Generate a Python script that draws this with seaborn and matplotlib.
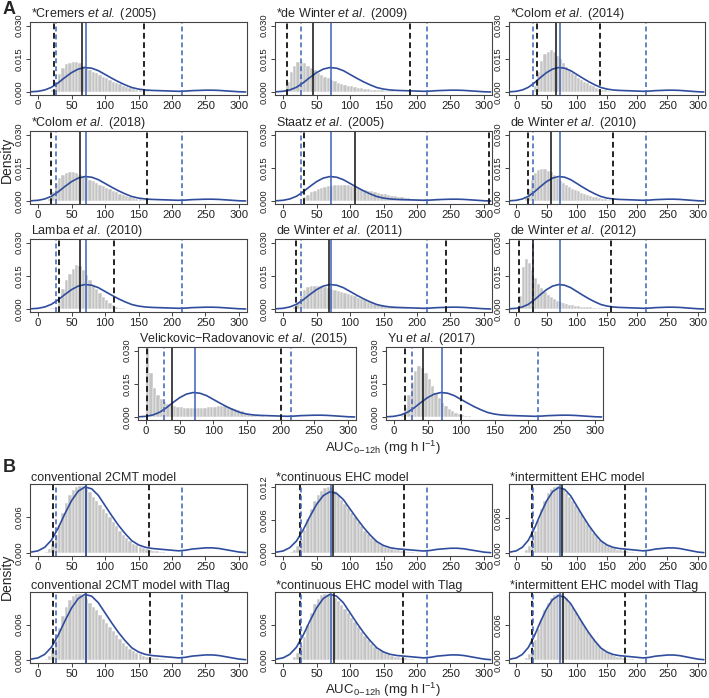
import pandas as pd
import matplotlib
matplotlib.use('Agg')
import matplotlib.pyplot as plt
import seaborn as sns

# observed AUC density (blue curve) and its percentiles
obs_x = [-10, 0, 10, 20, 30, 40, 50, 60, 70, 80, 90, 100, 110, 120, 130, 140, 150, 160,
         170, 180, 190, 200, 210, 220, 230, 240, 250, 260, 270, 280, 290, 300, 310]
obs_density = [0.0002, 0.0004, 0.0010, 0.0022, 0.0042, 0.0066, 0.0088, 0.0104, 0.0111, 0.0108,
               0.0097, 0.0080, 0.0063, 0.0047, 0.0033, 0.0021, 0.0014, 0.0010, 0.0008, 0.0007,
               0.0006, 0.0005, 0.0004, 0.0005, 0.0007, 0.0008, 0.0009, 0.0009, 0.0008, 0.0006,
               0.0004, 0.0002, 0.0001]
obs_lo, obs_med, obs_hi = 27, 72, 215

# panel A: published models
titles_a = [r'*Cremers $\mathit{et\ al.}$ (2005)', r'*de Winter $\mathit{et\ al.}$ (2009)',
            r'*Colom $\mathit{et\ al.}$ (2014)', r'*Colom $\mathit{et\ al.}$ (2018)',
            r'Staatz $\mathit{et\ al.}$ (2005)', r'de Winter $\mathit{et\ al.}$ (2010)',
            r'Lamba $\mathit{et\ al.}$ (2010)', r'de Winter $\mathit{et\ al.}$ (2011)',
            r'de Winter $\mathit{et\ al.}$ (2012)',
            r'Velickovic$-$Radovanovic $\mathit{et\ al.}$ (2015)', r'Yu $\mathit{et\ al.}$ (2017)']
sim_lo_a = [24, 6, 34, 20, 31, 19, 32, 19, 5, 1, 16]
sim_med_a = [65, 44, 66, 62, 107, 58, 63, 69, 28, 38, 43]
sim_hi_a = [158, 189, 138, 162, 307, 160, 113, 243, 157, 200, 100]
hist_start_a = [20, 0, 30, 15, 20, 15, 20, 15, 0, 0, 10]

hist_cremers = [0.001, 0.004, 0.008, 0.011, 0.0125, 0.013, 0.0135, 0.0135, 0.013, 0.012, 0.011,
                0.010, 0.0093, 0.0085, 0.0077, 0.007, 0.0062, 0.0055, 0.0048, 0.0042, 0.0036,
                0.003, 0.0025, 0.002, 0.0016, 0.0012, 0.0009, 0.0006, 0.0004, 0.0003, 0.0002]
hist_dewinter09 = [0.0008, 0.0045, 0.009, 0.012, 0.0135, 0.0135, 0.013, 0.012, 0.011, 0.0098,
                   0.0088, 0.0078, 0.007, 0.0062, 0.0055, 0.0049, 0.0043, 0.0038, 0.0034, 0.003,
                   0.0027, 0.0024, 0.0021, 0.0018, 0.0016, 0.0014, 0.0012, 0.001, 0.0009, 0.0008,
                   0.0006, 0.0005, 0.0004, 0.0003, 0.0003, 0.0002, 0.0002, 0.0001]
hist_colom14 = [0.003, 0.009, 0.014, 0.017, 0.0183, 0.0188, 0.018, 0.0165, 0.015, 0.0132, 0.0115,
                0.010, 0.0088, 0.0077, 0.0066, 0.0057, 0.0048, 0.004, 0.0033, 0.0027, 0.0021,
                0.0016, 0.0012, 0.0008, 0.0005, 0.0003]
hist_colom18 = [0.001, 0.004, 0.008, 0.0105, 0.012, 0.0128, 0.013, 0.013, 0.0125, 0.012, 0.0113,
                0.0105, 0.0097, 0.009, 0.0082, 0.0075, 0.0068, 0.006, 0.0053, 0.0046, 0.004,
                0.0034, 0.0028, 0.0023, 0.0018, 0.0014, 0.0011, 0.0008, 0.0006, 0.0004, 0.0003]
hist_staatz = [0.0003, 0.001, 0.002, 0.003, 0.004, 0.0048, 0.0055, 0.006, 0.0064, 0.0068, 0.007,
               0.0072, 0.0073, 0.0073, 0.0073, 0.0071, 0.0068, 0.0064, 0.006, 0.0056, 0.0052,
               0.0048, 0.0044, 0.004, 0.0037, 0.0034, 0.0031, 0.0028, 0.0025, 0.0022, 0.002,
               0.0018, 0.0016, 0.0014, 0.0012, 0.0011, 0.001, 0.0009, 0.0008, 0.0007, 0.0006,
               0.0005, 0.0004, 0.0003]
hist_dewinter10 = [0.002, 0.0055, 0.0095, 0.0125, 0.014, 0.0145, 0.0143, 0.0138, 0.013, 0.0118,
                   0.0105, 0.0093, 0.0082, 0.0072, 0.0064, 0.0057, 0.005, 0.0044, 0.0039, 0.0034,
                   0.0029, 0.0025, 0.0021, 0.0017, 0.0014, 0.0011, 0.0008, 0.0006, 0.0004, 0.0003]
hist_lamba = [0.0005, 0.0005, 0.004, 0.009, 0.013, 0.016, 0.018, 0.0198, 0.0195, 0.0175, 0.0155,
              0.013, 0.011, 0.009, 0.0072, 0.0056, 0.0042, 0.003, 0.002, 0.0012, 0.0007, 0.0004]
hist_dewinter11 = [0.001, 0.003, 0.006, 0.0085, 0.0098, 0.0103, 0.0105, 0.0105, 0.0103, 0.010,
                   0.0097, 0.0093, 0.0088, 0.0083, 0.0078, 0.0073, 0.0068, 0.0063, 0.0058, 0.0052,
                   0.0046, 0.004, 0.0034, 0.0029, 0.0025, 0.0021, 0.0018, 0.0015, 0.0012, 0.001,
                   0.0008, 0.0006, 0.0005, 0.0004, 0.0003, 0.0003, 0.0002, 0.0002]
hist_dewinter12 = [0.0005, 0.006, 0.019, 0.0225, 0.021, 0.0175, 0.014, 0.0115, 0.0095, 0.0078,
                   0.0065, 0.0055, 0.0046, 0.0039, 0.0033, 0.0028, 0.0024, 0.002, 0.0017, 0.0015,
                   0.0013, 0.0011, 0.001, 0.0009, 0.0008, 0.0007, 0.0006, 0.0005, 0.0004, 0.0004,
                   0.0003, 0.0003, 0.0002]
hist_velickovic = [0.032, 0.020, 0.013, 0.010, 0.008, 0.0068, 0.006, 0.0055, 0.005, 0.0046, 0.0044,
                   0.0042, 0.0041, 0.004, 0.004, 0.004, 0.0041, 0.0042, 0.0044, 0.0046, 0.0048,
                   0.005, 0.0051, 0.005, 0.0047, 0.0043, 0.0038, 0.0032, 0.0026, 0.002, 0.0015,
                   0.0011, 0.0008, 0.0006, 0.0004, 0.0003, 0.0002, 0.0002, 0.0001]
hist_yu = [0.001, 0.004, 0.010, 0.016, 0.021, 0.023, 0.022, 0.020, 0.017, 0.014, 0.011, 0.0085,
           0.0065, 0.005, 0.0037, 0.0027, 0.002, 0.0014, 0.001, 0.0007, 0.0004, 0.0002]
hists_a = [hist_cremers, hist_dewinter09, hist_colom14, hist_colom18, hist_staatz, hist_dewinter10,
           hist_lamba, hist_dewinter11, hist_dewinter12, hist_velickovic, hist_yu]

# panel B: new model structures
titles_b = ['conventional 2CMT model', '*continuous EHC model', '*intermittent EHC model',
            'conventional 2CMT model with Tlag', '*continuous EHC model with Tlag',
            '*intermittent EHC model with Tlag']
sim_lo_b = [22, 25, 26, 22, 25, 26]
sim_med_b = [71, 74, 76, 71, 76, 77]
sim_hi_b = [166, 180, 180, 167, 179, 180]
hist_start_b = [10, 10, 10, 10, 10, 10]
ylim_top_b = [0.0116, 0.0125, 0.0117, 0.0115, 0.0115, 0.0117]

hist_conv = [0.0002, 0.0007, 0.0016, 0.003, 0.0048, 0.0068, 0.0085, 0.0098, 0.0106, 0.0111, 0.0113,
             0.0112, 0.0108, 0.0102, 0.0095, 0.0088, 0.0081, 0.0074, 0.0067, 0.006, 0.0053,
             0.0046, 0.0038, 0.0031, 0.0025, 0.002, 0.0016, 0.0013, 0.001, 0.0008, 0.0007,
             0.0005, 0.0004, 0.0003, 0.0002, 0.0002, 0.0001]
hist_cont = [0.0002, 0.0006, 0.0013, 0.0025, 0.0042, 0.0062, 0.008, 0.0095, 0.0106, 0.0113, 0.0117,
             0.0119, 0.0117, 0.0112, 0.0105, 0.0097, 0.0089, 0.0081, 0.0073, 0.0065, 0.0057,
             0.0049, 0.0041, 0.0034, 0.0028, 0.0023, 0.0018, 0.0015, 0.0012, 0.001, 0.0008,
             0.0006, 0.0005, 0.0004, 0.0003, 0.0002, 0.0002, 0.0001]
hist_int = [0.0001, 0.0005, 0.0012, 0.0023, 0.0038, 0.0056, 0.0074, 0.0089, 0.0101, 0.0108, 0.0112,
            0.0113, 0.0112, 0.0108, 0.0102, 0.0095, 0.0088, 0.0081, 0.0074, 0.0066, 0.0058,
            0.005, 0.0042, 0.0035, 0.0029, 0.0023, 0.0019, 0.0015, 0.0012, 0.001, 0.0008,
            0.0006, 0.0005, 0.0004, 0.0003, 0.0002, 0.0002, 0.0001]
hist_conv_tlag = [0.0002, 0.0008, 0.0018, 0.0034, 0.0054, 0.0074, 0.009, 0.0102, 0.0109, 0.0112,
                  0.0111, 0.0108, 0.0103, 0.0097, 0.009, 0.0084, 0.0077, 0.007, 0.0063, 0.0056,
                  0.0049, 0.0042, 0.0035, 0.0029, 0.0024, 0.0019, 0.0015, 0.0012, 0.001, 0.0008,
                  0.0006, 0.0005, 0.0004, 0.0003, 0.0002, 0.0002, 0.0001]
hist_cont_tlag = [0.0001, 0.0005, 0.0012, 0.0024, 0.004, 0.006, 0.0079, 0.0094, 0.0104, 0.011,
                  0.0112, 0.0112, 0.0109, 0.0105, 0.0099, 0.0093, 0.0086, 0.0079, 0.0072, 0.0064,
                  0.0056, 0.0048, 0.0041, 0.0034, 0.0028, 0.0023, 0.0018, 0.0015, 0.0012, 0.001,
                  0.0008, 0.0006, 0.0005, 0.0004, 0.0003, 0.0002, 0.0002, 0.0001]
hist_int_tlag = [0.0001, 0.0004, 0.001, 0.002, 0.0035, 0.0053, 0.0071, 0.0087, 0.0099, 0.0107,
                 0.0112, 0.0114, 0.0114, 0.0111, 0.0106, 0.0099, 0.0091, 0.0083, 0.0075, 0.0067,
                 0.0059, 0.0051, 0.0043, 0.0036, 0.003, 0.0024, 0.0019, 0.0015, 0.0012, 0.001,
                 0.0008, 0.0006, 0.0005, 0.0004, 0.0003, 0.0002, 0.0002, 0.0001]
hists_b = [hist_conv, hist_cont, hist_int, hist_conv_tlag, hist_cont_tlag, hist_int_tlag]

BIN = 5
BLUE = '#2f4d9c'
BLUE_LIGHT = '#3f62b8'

sns.set_style('ticks')
plt.rcParams['font.family'] = ['Liberation Sans', 'DejaVu Sans']
plt.rcParams['mathtext.fontset'] = 'custom'
plt.rcParams['mathtext.rm'] = 'Liberation Sans'
plt.rcParams['mathtext.it'] = 'Liberation Sans:italic'
plt.rcParams['axes.edgecolor'] = '#444444'

W, H = 709, 698
fig = plt.figure(figsize=(W / 100, H / 100), dpi=100)


def add_box(x0, x1, top, bottom):
    return fig.add_axes([x0 / W, 1 - bottom / H, (x1 - x0) / W, (bottom - top) / H])


def draw_panel(ax, title, start, heights, lo, med, hi, ytop, yticks):
    edges = [start + BIN * k for k in range(len(heights) + 1)]
    df = pd.DataFrame({'auc': [e + BIN / 2 for e in edges[:-1]], 'dens': heights})
    sns.histplot(data=df, x='auc', weights='dens', bins=edges, ax=ax, color='#c4c4c4',
                 edgecolor='white', linewidth=0.35, alpha=1)
    sns.lineplot(x=obs_x, y=obs_density, ax=ax, color=BLUE, linewidth=1.2)
    dash = (0, (3.2, 2.0))
    for v in (lo, hi):
        ax.axvline(v, color='#111111', linestyle=dash, linewidth=1.3)
    for v in (obs_lo, obs_hi):
        ax.axvline(v, color=BLUE_LIGHT, linestyle=dash, linewidth=1.1)
    ax.axvline(med, color='#111111', linewidth=1.1)
    ax.axvline(obs_med, color=BLUE_LIGHT, linewidth=1.1)
    ax.set_xticks(range(0, 301, 50))
    ax.set_yticks(yticks)
    ax.set_yticklabels([f'{t:.3f}' for t in yticks], rotation=90, va='center')
    ax.set_xlim(-12, 312)
    ax.set_ylim(-0.04 * ytop, ytop)
    ax.tick_params(axis='x', labelsize=8.2, length=3, width=0.6, pad=1.2, colors='#222222')
    ax.tick_params(axis='y', labelsize=6.8, length=3, width=0.6, pad=1.5, colors='#222222')
    for s in ax.spines.values():
        s.set_visible(True)
        s.set_linewidth(0.8)
    ax.set_xlabel('')
    ax.set_ylabel('')
    ax.set_title(title, loc='left', fontsize=9.0, pad=1.5, x=0.005)


# panel A layout (pixel boxes)
cols = [(30, 247), (275, 492), (509, 705)]
rows_a = [(22, 95), (131, 204), (239, 312), (347, 420)]
boxes_a = [(c, r) for r in rows_a[:3] for c in cols] + [((138, 356), rows_a[3]), ((386, 603), rows_a[3])]
for i, ((x0, x1), (t, b)) in enumerate(boxes_a):
    ax = add_box(x0, x1, t, b)
    draw_panel(ax, titles_a[i], hist_start_a[i], hists_a[i], sim_lo_a[i], sim_med_a[i],
               sim_hi_a[i], 0.0316, [0, 0.015, 0.030])

# panel B layout
rows_b = [(484, 556), (592, 663)]
boxes_b = [(c, r) for r in rows_b for c in cols]
for i, ((x0, x1), (t, b)) in enumerate(boxes_b):
    ax = add_box(x0, x1, t, b)
    draw_panel(ax, titles_b[i], hist_start_b[i], hists_b[i], sim_lo_b[i], sim_med_b[i],
               sim_hi_b[i], ylim_top_b[i], [0, 0.006, 0.012])

xlab = r'AUC$_{\mathrm{0\!-\!12h}}$ (mg h l$^{-1}$)'
fig.text(3 / W, 1 - 9 / H, 'A', fontsize=13, fontweight='bold', va='center')
fig.text(3 / W, 1 - 467 / H, 'B', fontsize=13, fontweight='bold', va='center')
fig.text(7 / W, 1 - 160 / H, 'Density', rotation=90, fontsize=10, ha='center', va='center')
fig.text(7 / W, 1 - 577 / H, 'Density', rotation=90, fontsize=10, ha='center', va='center')
fig.text(383 / W, 1 - 452 / H, xlab, fontsize=9.5, ha='center', va='baseline')
fig.text(383 / W, 1 - 694 / H, xlab, fontsize=9.5, ha='center', va='baseline')

fig.savefig('out.png', dpi=100)
plt.close(fig)
